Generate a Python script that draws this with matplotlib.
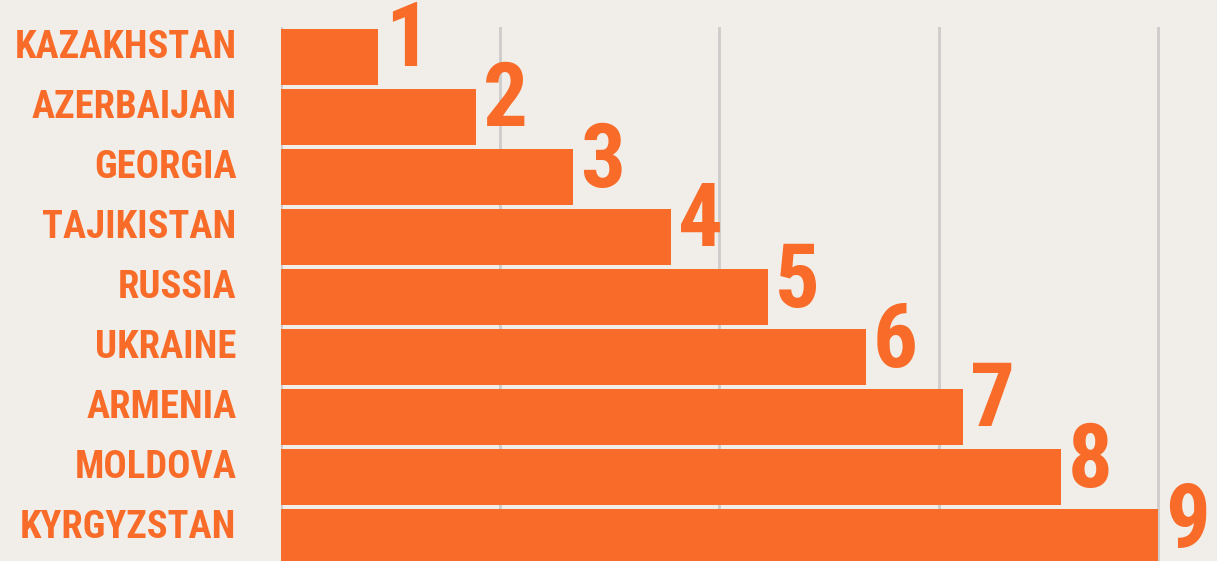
import matplotlib
matplotlib.use("Agg")
import matplotlib.pyplot as plt
from matplotlib import font_manager

countries = ["KAZAKHSTAN", "AZERBAIJAN", "GEORGIA", "TAJIKISTAN", "RUSSIA",
             "UKRAINE", "ARMENIA", "MOLDOVA", "KYRGYZSTAN"]
values = [1, 2, 3, 4, 5, 6, 7, 8, 9]
value_labels = ["1", "2", "3", "4", "5", "6", "7", "8", "9"]
grid_ticks = [0, 2.25, 4.5, 6.75, 9]

installed = {f.name for f in font_manager.fontManager.ttflist}
fam = None
for cand in ["Roboto Condensed", "Liberation Sans Narrow", "DejaVu Sans Condensed", "DejaVu Sans"]:
    if cand in installed:
        fam = cand
        break

ORANGE = "#f96b28"
BG = "#f1eee9"
GRID = "#cdcccb"

W, H = 1217, 561
fig = plt.figure(figsize=(W / 100, H / 100), dpi=100, facecolor=BG)
left, right, top, bottom = 281, 1217, 27, 561
ax = fig.add_axes([left / W, 1 - bottom / H, (right - left) / W, (bottom - top) / H])
ax.set_facecolor(BG)
ax.set_xlim(0, (right - left) / 97.44)
ax.set_ylim(8.4, -0.5)

for g in grid_ticks:
    ax.axvline(g, color=GRID, lw=2, zorder=0)

ypos = list(range(len(countries)))
ax.barh(ypos, values, height=0.92, color=ORANGE, zorder=2)

# fit the country label size so the widest label is about as wide as in the reference
renderer = fig.canvas.get_renderer()
probe = fig.text(0, 0, "KAZAKHSTAN", fontsize=36, fontweight="bold", family=fam)
wpx = probe.get_window_extent(renderer).width
probe.remove()
name_size = 36 * 222.0 / wpx

for y, v, lab, name in zip(ypos, values, value_labels, countries):
    ax.annotate(lab, xy=(v, y - 0.25), xytext=(5, 0), textcoords="offset points",
                ha="left", va="center", fontsize=64, fontweight="bold",
                color=ORANGE, family=fam, annotation_clip=False, zorder=3)
    ax.annotate(name, xy=(0, y - 0.16), xytext=(-32, 0), textcoords="offset points",
                ha="right", va="center", fontsize=name_size, fontweight="bold",
                color=ORANGE, family=fam, annotation_clip=False)

for s in ax.spines.values():
    s.set_visible(False)
ax.set_xticks([])
ax.set_yticks([])

fig.savefig("out.png", dpi=100, facecolor=BG)
